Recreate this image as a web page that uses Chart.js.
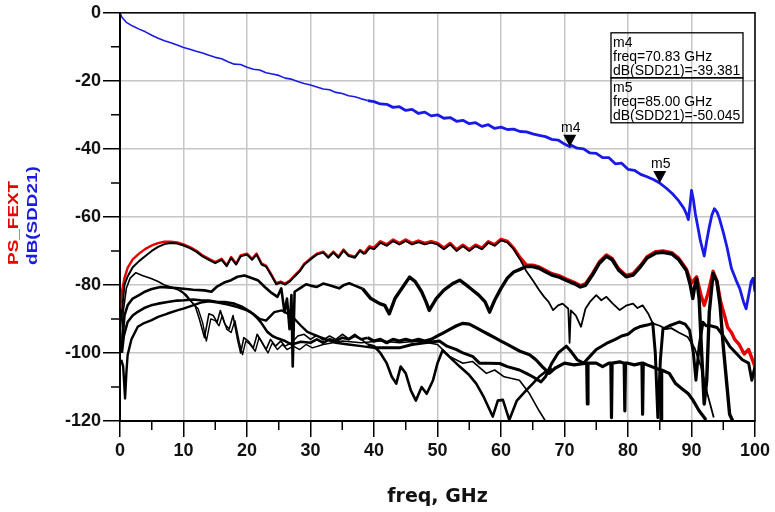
<!DOCTYPE html>
<html>
<head>
<meta charset="utf-8">
<script src="https://cdn.jsdelivr.net/npm/chart.js@4.4.0/dist/chart.umd.min.js"></script>
<style>
  html, body { margin: 0; padding: 0; background: #fff; }
  #wrap { width: 775px; height: 512px; }
</style>
</head>
<body>
<div id="wrap"><canvas id="chart" width="775" height="512"></canvas></div>
<script>
// axis ticks (labelled ones)
const xTicks = [0, 10, 20, 30, 40, 50, 60, 70, 80, 90, 100];
const yTicks = [0, -20, -40, -60, -80, -100, -120];

// markers
const markerNames = ['m4', 'm5'];
const markerFreqs = [70.83, 85.00];
const markerValues = [-39.381, -50.045];

// dB(SDD21) [freq GHz, dB]
const sdd21 = [[0,0],[0.3,-1.3],[1,-2.8],[2,-3.9],[3,-4.8],[4,-5.6],[5,-6.6],[6,-7.5],[7,-8.2],[8,-8.8],[9,-9.5],[10,-10.2],
  [11,-10.7],[12,-11.3],[13,-11.8],[14,-12.5],[15,-13.1],[16,-13.5],[17,-14.4],[18,-15.1],[19,-15.2],[20,-16],
  [21,-16.6],[22,-16.8],[23,-17.6],[24,-18],[25,-18.4],[26,-19.2],[27,-19.5],[28,-20.2],[29,-20.8],[30,-21.2],
  [31,-21.8],[32,-22.4],[33,-22.6],[34,-23.4],[35,-23.7],[36,-24.4],[37,-24.7],[38,-25.3],[39,-25.8],[40,-26.1],
  [41,-26.8],[42,-26.9],[43,-27.8],[44,-27.6],[45,-28.7],[46,-28.4],[47,-29.6],[48,-29.2],[49,-30.3],[50,-30],
  [51,-31],[52,-30.8],[53,-31.9],[54,-31.6],[55,-32.6],[56,-32.3],[57,-33.4],[58,-32.9],[59,-34],[60,-33.6],
  [61,-34.3],[62,-34.2],[63,-34.9],[64,-35],[65,-35.6],[66,-36],[67,-36.4],[68,-37.2],[69,-37.4],[70,-38.6],
  [70.83,-39.381],[71,-38.9],[72,-39.8],[73,-40],[74,-41.2],[75,-41.3],[76,-42.6],[77,-42.6],[78,-44.4],[79,-44.2],
  [80,-46],[81,-46.3],[82,-47.5],[83,-48.2],[84,-49],[85,-50.045],[86,-51.5],[87,-53.2],[88,-55.3],[88.8,-57.5],
  [89.2,-59.1],[89.5,-60.8],[89.8,-56],[90,-52.2],[90.3,-55],[90.6,-59],[91,-63],[91.4,-67],[92,-71.5],[92.4,-67],
  [92.8,-63],[93.2,-59.5],[93.6,-57.6],[94,-58.5],[94.4,-60.5],[95,-64.5],[95.6,-69],[96.3,-75.2],[97,-78.5],
  [97.6,-81.1],[98.2,-85],[98.6,-87],[99,-83],[99.4,-79],[99.7,-78],[100,-82]];

// PS_FEXT [freq GHz, dB]
const psFext = [[0,-87],[0.3,-82],[0.7,-78],[1.2,-75],[2,-72.5],[3,-70.8],[4,-69.4],[5,-68.4],[6,-67.7],[7,-67.3],[8,-67.3],
  [9,-67.5],[10,-68.1],[11,-68.9],[12,-69.9],[13,-71.3],[14,-72.3],[15,-73.3],[16,-72.3],[16.8,-74.2],[17.5,-71.8],
  [18.3,-73.7],[19,-71.3],[20,-70.8],[20.8,-72.3],[21.5,-70.8],[22.3,-73.7],[23,-74.3],[23.8,-76.8],[24.6,-79.5],
  [25.3,-79],[26,-79.6],[26.8,-78.6],[27.5,-77.2],[28.3,-75.7],[29,-73.8],[30,-72.2],[31,-70.8],[32,-70.2],[32.8,-71.7],
  [33.6,-70.2],[34.4,-71.7],[35.2,-69.6],[36,-71.2],[37,-71.7],[37.8,-69.7],[38.5,-70.7],[39.3,-68.8],[40,-69.2],
  [41,-67.3],[42,-68.2],[43,-66.8],[44,-67.8],[45,-66.8],[46,-67.8],[47,-67.1],[48,-67.8],[49,-67.3],[50,-67.8],
  [51,-69.2],[52,-67.8],[53,-69.7],[54,-68.3],[55,-69.7],[56,-68.3],[57,-69.2],[58,-67.3],[59,-68.2],[60,-66.6],
  [61,-67.2],[62,-69.2],[63,-72],[64,-74.2],[65,-74.2],[66,-74.7],[67,-75.7],[68,-76.7],[69,-77.2],[70.3,-78.3],
  [71.5,-79.2],[72.5,-80.2],[73.3,-79.7],[74.4,-76.7],[75.5,-73.2],[76.6,-71.2],[77.5,-72.2],[78.5,-75.2],[79.7,-77.2],
  [80.8,-76.7],[82,-74.2],[83,-71.7],[84.4,-70.2],[85.5,-70],[86.9,-70.5],[88,-72.2],[89.2,-75.4],[90,-79.5],
  [90.8,-77.6],[91.5,-83],[92,-86],[92.6,-82.5],[93.4,-76],[94,-78.8],[94.6,-85],[95.2,-89],[95.7,-92.5],[96.3,-94],
  [96.8,-96],[97.5,-97.5],[98.3,-100.3],[99,-99],[99.5,-101.5],[100,-104]];

// individual FEXT aggressors [freq GHz, dB]
const fext1 = [[0,-93],[0.3,-88],[0.7,-80],[1.2,-77.5],[2,-74.8],[3,-73],[4,-71.5],[5,-70],[6,-68.8],[7,-68],[8,-67.7],
  [9,-67.8],[10,-68.4],[11,-69.2],[12,-70.2],[13,-71.6],[14,-72.6],[15,-73.6],[16,-72.6],[16.8,-74.5],[17.5,-72.1],
  [18.3,-74],[19,-71.6],[20,-71.1],[20.8,-72.6],[21.5,-71.1],[22.3,-74],[23,-74.6],[23.8,-77.1],[24.6,-79.8],
  [25.3,-79.3],[26,-79.9],[26.8,-78.9],[27.5,-77.5],[28.3,-76],[29,-74.1],[30,-72.5],[31,-71.1],[32,-70.5],[32.8,-72],
  [33.6,-70.5],[34.4,-72],[35.2,-69.9],[36,-71.5],[37,-72],[37.8,-70],[38.5,-71],[39.3,-69.1],[40,-69.5],[41,-67.6],
  [42,-68.5],[43,-67.1],[44,-68.1],[45,-67.1],[46,-68.1],[47,-67.4],[48,-68.1],[49,-67.6],[50,-68.1],[51,-69.5],
  [52,-68.1],[53,-70],[54,-68.6],[55,-70],[56,-68.6],[57,-69.5],[58,-67.6],[59,-68.5],[60,-66.9],[61,-67.5],[62,-69.5],
  [63,-72.5],[64,-76],[65,-78.6],[66,-81.5],[66.8,-83.5],[67.5,-85],[68.2,-87.4],[69,-86],[69.7,-85.5],[70.6,-87],
  [70.8,-97],[71,-87.5],[71.8,-89],[72.6,-92.3],[73.3,-87],[74,-85],[75,-83],[75.8,-84.5],[76.6,-83.5],[77.6,-85.5],
  [78.7,-87.4],[79.8,-86],[80.8,-85.5],[81.5,-86.8],[82.3,-86],[83.2,-88.5],[83.9,-91.3],[85,-92],[86,-93],
  [86.8,-92.7],[88,-94],[89.4,-95.3],[90.5,-98.6],[91.5,-104],[92.5,-112],[93.5,-119]];

const fext2 = [[0.4,-96],[0.7,-89],[1.2,-86],[2,-84],[3,-83],[3.8,-82.1],[5,-81.2],[6.4,-80.6],[8,-80.8],[10,-81.1],
  [11.5,-81.4],[13.3,-81.6],[14.4,-82],[15.2,-80.6],[16.4,-79.3],[17.5,-78.6],[18.5,-77.6],[19.6,-77.2],[20.5,-77.8],
  [21.7,-78.6],[22.8,-80.6],[23.7,-82.1],[24.8,-83.5],[25.4,-81],[25.9,-88],[26.3,-84],[26.7,-93],[27,-83],[27.2,-104],
  [27.5,-82],[28.5,-80.8],[29.3,-79.8],[30,-80.2],[31,-80.6],[32,-79.6],[33,-80.1],[34.5,-81],[35.3,-80],[36.1,-79.5],
  [37,-80.2],[38.2,-81.1],[39.5,-84],[40.9,-85.5],[41.7,-86],[42.4,-88.5],[43.3,-84],[44.4,-81],[45.6,-77.7],
  [46.5,-79],[47.5,-82],[48.2,-85],[48.7,-87.5],[49.8,-84],[51,-81.5],[52.5,-79.5],[53.5,-78.6],[54.5,-80],
  [55.5,-81.5],[56.5,-83],[57.5,-85],[58.2,-88],[59,-84.5],[60,-81],[61,-78],[62,-76.2],[62.9,-75.5],[64,-74.6],
  [65,-74.6],[66,-75.1],[67,-76.1],[68,-77.1],[69,-77.6],[70.3,-78.7],[71.5,-79.6],[72.5,-80.6],[73.3,-80.1],
  [74.4,-77.1],[75.5,-73.6],[76.6,-71.6],[77.5,-72.6],[78.5,-75.6],[79.7,-77.6],[80.8,-77.1],[82,-74.6],[83,-72.1],
  [84.4,-70.6],[85.5,-70.4],[86.9,-70.9],[88,-72.6],[89.2,-75.8],[89.8,-80],[90.2,-84],[90.5,-80.5],[90.8,-78.2],
  [91.2,-84],[91.6,-100],[92,-115],[92.4,-108],[92.8,-88],[93.4,-76.6],[94,-79],[94.5,-86],[95,-98],[95.5,-108],
  [96,-118],[96.5,-120]];

const fext3 = [[0.2,-100],[0.5,-88],[1,-81],[1.6,-78],[2.5,-76.4],[3.5,-77.2],[4.9,-78.1],[6,-79],[7,-80],[8,-80.6],
  [9.1,-81.4],[10,-82.5],[11,-84.5],[11.8,-86],[12.5,-90],[13.3,-95.5],[14,-88.5],[14.7,-89],[15.3,-91],[15.8,-87.5],
  [16.5,-91.5],[17.2,-93],[17.8,-89],[18.5,-96],[19,-100],[19.5,-95.5],[20.2,-96.5],[21,-98.5],[21.6,-94.5],
  [22.4,-97],[23,-99],[23.7,-96],[24.5,-98],[25.3,-96.5],[26,-98],[27,-97],[28,-95],[29,-94.5],[30,-96],[31,-94.8],
  [32,-96.2],[33,-95],[34,-96],[35,-94.5],[36,-95.8],[37,-94.5],[38,-96],[39,-97.5],[40,-98],[41,-100],[42,-103],
  [42.8,-107],[43.5,-109],[44.2,-104],[45,-106],[45.8,-111],[46.6,-114],[47.5,-110],[48.3,-112],[49.3,-108],[50,-103],
  [50.8,-99.2],[51.8,-101],[53.5,-104],[55,-106.5],[56.1,-109],[57.3,-113],[58.7,-118.7],[59.5,-114],[60.3,-113.8],
  [61.3,-119.7],[62.5,-114],[64,-110.9],[65,-109],[66,-107],[67,-105.5],[68,-104.5]];

const fext3b = [[9.5,-81.5],[10.5,-83],[11.5,-85.5],[12.3,-87],[13,-91],[13.6,-96.5],[14.3,-90],[15,-90.5],[15.6,-92],
  [16.1,-89],[16.8,-93],[17.5,-94],[18.1,-90.5],[18.8,-97],[19.3,-100.5],[19.8,-96.5],[20.5,-97.5],[21.3,-99.5],
  [21.9,-95.5],[22.7,-98],[23.3,-100],[24,-97],[24.8,-99],[25.6,-97.5],[26.3,-99],[27.3,-98],[28.3,-99],[29.3,-97.5],
  [30.3,-98.5],[32,-97.5],[35,-96.5],[38,-97],[41,-96.5],[44,-97],[47,-96.5],[50,-97.5],[51.9,-101],[54,-103],
  [55.5,-102.5],[57.7,-106],[59,-105],[60.5,-107],[62.9,-108],[64.5,-112],[66,-117],[67,-120]];

const fext4 = [[0.3,-100],[0.6,-95],[1.2,-90.9],[2,-89],[2.8,-87.9],[3.8,-86.8],[4.9,-86],[6,-85.5],[7.5,-85],[9,-84.6],
  [10.1,-84.5],[11.5,-84.3],[12.7,-84.5],[14,-84.6],[15.4,-85],[16.5,-85],[18,-85.5],[19.3,-86.5],[20.6,-88],
  [21.5,-89.5],[22.2,-91],[23.2,-93.8],[24,-95],[24.8,-95.7],[26,-96.5],[27,-97.5],[28.5,-96.7],[30,-97],[31,-96],
  [32,-97],[33,-96],[34,-96.5],[35,-95.5],[36,-96],[37,-95],[38,-96],[39,-95.5],[40,-96.5],[41,-96],[42,-97],[43,-96],
  [44,-96.5],[45,-96],[46,-96.5],[47,-96],[48,-96.5],[49,-96],[50,-95],[51,-94],[52,-93],[53,-92],[54,-91.3],
  [55,-91.5],[56,-92.5],[57,-93.5],[58,-94.5],[59,-95.5],[60,-96.5],[61,-97.5],[62,-98.5],[63,-99.5],[64.5,-100.5],
  [65.5,-102],[66.5,-104],[67.6,-106],[68.5,-104.5],[70,-103],[71.5,-103.5],[73.5,-103],[73.6,-115],[73.7,-103],
  [75,-103],[76,-104],[77,-103],[77.3,-103],[77.4,-119],[77.5,-103],[78.7,-102.6],[79.4,-103],[79.5,-117],[79.6,-103],
  [80,-103],[81,-103.5],[82.2,-103],[82.3,-118],[82.4,-103],[83,-103.5],[85.1,-105],[85.2,-120],[85.3,-105],
  [86.5,-106],[87.5,-109],[88.5,-110.5],[89.5,-112],[90.2,-113.8],[91.2,-117],[92.3,-119.7]];

const fext5 = [[0.2,-102],[0.5,-104],[0.8,-113.4],[1,-106],[1.2,-100.6],[1.8,-96],[2.8,-92.3],[3.8,-91.2],[4.9,-90.4],
  [6,-89.4],[7.5,-88.4],[9,-87.5],[10.1,-86.9],[11.5,-86],[12.7,-85.2],[14,-84.8],[15.4,-85.2],[17,-85.8],[18.5,-86.5],
  [20,-87.5],[21,-88.5],[22,-90],[23,-90.5],[24.3,-88],[25.5,-87.5],[26.5,-88.5],[27.5,-90],[28.5,-92],[29.5,-93.8],
  [31,-95],[32.5,-96],[34,-97],[36,-97.5],[38,-98],[40,-98.5],[42,-98.5],[44,-98.5],[46,-97.5],[48,-97],[50.3,-96.5],
  [51.5,-98],[53,-99],[54,-100],[55.6,-101.1],[56.6,-103],[58,-103],[59.8,-103.1],[61,-104],[62.9,-105],[64,-106],
  [65,-107],[66.3,-108.5],[67,-107],[68,-103],[69,-100],[70.3,-98],[71,-99.5],[72,-102],[73,-103],[74,-101],[75,-99],
  [76.6,-97.2],[78,-96],[79,-95],[80,-94.5],[81,-93],[81.8,-92.3],[83,-91.8],[83.9,-91.3],[84.3,-100],[84.7,-119],
  [85.1,-102],[85.5,-93],[86.5,-92],[87.5,-91.3],[88.1,-90.9],[89,-91.5],[89.7,-93.3],[90.3,-100],[90.7,-108],
  [91.2,-98],[91.8,-91],[92.3,-92],[93,-92],[94,-92.5],[95,-95],[96,-98],[97,-100],[98,-102],[99,-103],[99.5,-108],
  [100,-104]];

const blackCurves = [fext1, fext2, fext3, fext3b, fext4, fext5];
// [width below 38 GHz, width above] - the measured traces get noisy at higher freq
const blackWidths = [[2.0, 1.8], [2.6, 3.4], [1.6, 2.6], [1.4, 1.6], [2.6, 3.2], [2.4, 3.0]];

const yTitleParts = [['PS_FEXT', '#e60000'], ['dB(SDD21)', '#1a1ae6']];

function pts(arr) {
    return arr.map(p => ({ x: p[0], y: p[1] }));
}

function widthBy(lo, hi) {
    return c => c.p0.parsed.x > 38 ? hi : lo;
}

const datasets = [];
datasets.push({ data: pts(sdd21), borderColor: '#1a1ae6', borderWidth: 1.6,
    segment: { borderWidth: widthBy(1.6, 2.8) } });
blackCurves.forEach((c, i) => {
    datasets.push({ data: pts(c), borderColor: '#000', borderWidth: blackWidths[i][0],
        segment: { borderWidth: widthBy(blackWidths[i][0], blackWidths[i][1]) } });
});
// drawn last = underneath the black traces
datasets.push({ data: pts(psFext), borderColor: '#e60000', borderWidth: 2.4,
    segment: { borderWidth: widthBy(2.4, 3.4) } });

// markers, readout box, minor ticks, frame and two-colour y title
const adsDecor = {
    id: 'adsDecor',
    afterDraw(chart) {
        const { ctx, chartArea: a, scales: { x, y } } = chart;
        ctx.save();
        ctx.strokeStyle = '#000';
        ctx.lineWidth = 1.5;
        ctx.beginPath();
        for (let v = 5; v < 100; v += 10) {
            const px = x.getPixelForValue(v);
            ctx.moveTo(px, a.bottom); ctx.lineTo(px, a.bottom + 9);
        }
        for (let v = -10; v > -120; v -= 20) {
            const py = y.getPixelForValue(v);
            ctx.moveTo(a.left - 9, py); ctx.lineTo(a.left, py);
        }
        ctx.stroke();
        ctx.strokeRect(a.left, a.top, a.right - a.left, a.bottom - a.top);

        // marker triangles
        ctx.fillStyle = '#000';
        ctx.font = '14px "Liberation Sans", Arial, sans-serif';
        ctx.textAlign = 'center';
        ctx.textBaseline = 'alphabetic';
        markerNames.forEach((name, i) => {
            const px = x.getPixelForValue(markerFreqs[i]);
            const py = y.getPixelForValue(markerValues[i]);
            ctx.beginPath();
            ctx.moveTo(px, py);
            ctx.lineTo(px - 6.5, py - 12);
            ctx.lineTo(px + 6.5, py - 12);
            ctx.closePath();
            ctx.fill();
            ctx.fillText(name, px + 1, py - 15);
        });

        // readout box
        const bx = a.right - 144, by = a.top + 20, bw = 132, bh = 45;
        ctx.lineWidth = 1.3;
        ctx.textAlign = 'left';
        markerNames.forEach((name, i) => {
            const top = by + i * bh;
            ctx.strokeRect(bx, top, bw, bh);
            ctx.fillText(name, bx + 2, top + 14);
            ctx.fillText('freq=' + markerFreqs[i].toFixed(2) + ' GHz', bx + 2, top + 28);
            ctx.fillText('dB(SDD21)=' + markerValues[i].toFixed(3), bx + 2, top + 42);
        });

        // y title
        ctx.font = 'bold 15.5px "Liberation Sans", Arial, sans-serif';
        ctx.textBaseline = 'middle';
        const yStart = (a.top + a.bottom) / 2 + 48;
        yTitleParts.forEach((part, i) => {
            ctx.save();
            ctx.translate(14 + i * 19, yStart);
            ctx.rotate(-Math.PI / 2);
            ctx.scale(1.22, 1);
            ctx.fillStyle = part[1];
            ctx.fillText(part[0], 0, 0);
            ctx.restore();
        });
        ctx.restore();
    }
};

const tickFont = { family: '"Liberation Sans", Arial, sans-serif', weight: 'bold', size: 18 };

new Chart(document.getElementById('chart'), {
    type: 'line',
    data: { datasets: datasets },
    options: {
        responsive: false,
        devicePixelRatio: 1,
        animation: false,
        events: [],
        layout: { padding: { left: 0, right: 20, top: 12, bottom: 0 } },
        elements: {
            point: { radius: 0 },
            line: { tension: 0, borderJoinStyle: 'round', fill: false }
        },
        plugins: { legend: { display: false }, tooltip: { enabled: false } },
        scales: {
            x: {
                type: 'linear',
                min: 0,
                max: 100,
                afterFit: s => { s.height = 91; },
                ticks: {
                    stepSize: 5,
                    autoSkip: false,
                    maxRotation: 0,
                    padding: 3,
                    color: '#111',
                    font: tickFont,
                    callback: v => xTicks.includes(v) ? String(v) : ''
                },
                grid: {
                    color: c => xTicks.includes(c.tick.value) ? '#c6c6c6' : 'rgba(0,0,0,0)',
                    tickColor: c => xTicks.includes(c.tick.value) ? '#000' : 'rgba(0,0,0,0)',
                    lineWidth: 1.5,
                    tickWidth: 1.5,
                    tickLength: 16
                },
                border: { color: '#000', width: 2 },
                title: {
                    display: true,
                    text: 'freq, GHz',
                    color: '#111',
                    font: { family: '"DejaVu Sans", sans-serif', weight: 'bold', size: 19 },
                    padding: { top: 0, bottom: 4 }
                }
            },
            y: {
                type: 'linear',
                min: -120,
                max: 0,
                afterFit: s => { s.width = 120; },
                ticks: {
                    stepSize: 10,
                    autoSkip: false,
                    padding: 2,
                    color: '#111',
                    font: tickFont,
                    callback: v => yTicks.includes(v) ? String(v) : ''
                },
                grid: {
                    color: c => yTicks.includes(c.tick.value) ? '#c6c6c6' : 'rgba(0,0,0,0)',
                    tickColor: c => yTicks.includes(c.tick.value) ? '#000' : 'rgba(0,0,0,0)',
                    lineWidth: 1.5,
                    tickWidth: 1.5,
                    tickLength: 17
                },
                border: { color: '#000', width: 2 }
            }
        }
    },
    plugins: [adsDecor]
});
</script>
</body>
</html>
